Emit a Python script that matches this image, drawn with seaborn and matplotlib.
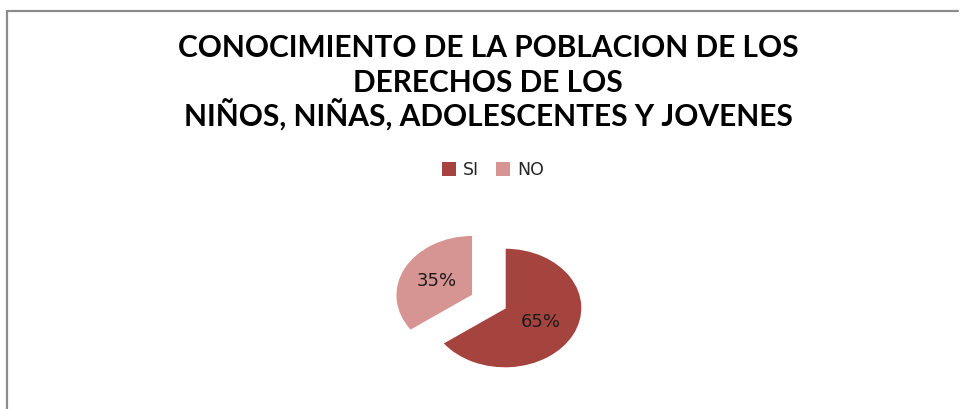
import matplotlib
matplotlib.use("Agg")
import matplotlib.pyplot as plt
import seaborn as sns
from matplotlib.patches import Patch
from matplotlib.lines import Line2D

categories = ["SI", "NO"]
values = [65, 35]
colors = ["#A5443F", "#D69493"]
title_lines = ["CONOCIMIENTO DE LA POBLACION DE LOS", "DERECHOS DE LOS",
               "NIÑOS, NIÑAS, ADOLESCENTES Y JOVENES"]

sns.set_theme(style="white")
plt.rcParams["font.family"] = ["Lato", "DejaVu Sans"]

W, H = 960, 409
fig = plt.figure(figsize=(W / 100, H / 100), dpi=100)
fig.patch.set_facecolor("white")

# frame lines (top and left)
fig.add_artist(Line2D([6.5 / W, 958 / W], [1 - 10.5 / H, 1 - 10.5 / H], color="#8C8C8C", lw=1.6))
fig.add_artist(Line2D([6.5 / W, 6.5 / W], [1 - 10.5 / H, 0], color="#8C8C8C", lw=1.6))

# title
for i, line in enumerate(title_lines):
    fig.text(488 / W, 1 - (57 + i * 35) / H, line, ha="center", va="baseline",
             fontsize=21.5, fontweight="bold", color="black")

# pie axes: 1 data unit = 77 px horizontally, 60 px vertically; center (505, 308)
rx, ry = 77, 60
cx, cy = 505, 308
ax = fig.add_axes([(cx - 3 * rx) / W, (H - (cy + 1.5 * ry)) / H, 6 * rx / W, 3 * ry / H])
wedges, texts, autotexts = ax.pie(values, colors=colors, startangle=90, counterclock=False,
                                  explode=[0, 0.47], autopct="%1.0f%%", pctdistance=0.52,
                                  textprops=dict(fontsize=13, color="#1a1a1a",
                                                 family=["DejaVu Sans"]))
ax.set_aspect("auto")
ax.set_xlim(-3, 3)
ax.set_ylim(-1.5, 1.5)
ax.axis("off")

handles = [Patch(facecolor=c, edgecolor="none") for c in colors]
fig.legend(handles, categories, loc="center", bbox_to_anchor=(493 / W, 1 - 170 / H),
           ncol=2, frameon=False, prop=dict(family=["DejaVu Sans"], size=12.5),
           handlelength=0.8, handleheight=0.8, handletextpad=0.4, columnspacing=1.0)

fig.savefig("out.png", dpi=100, facecolor="white")
